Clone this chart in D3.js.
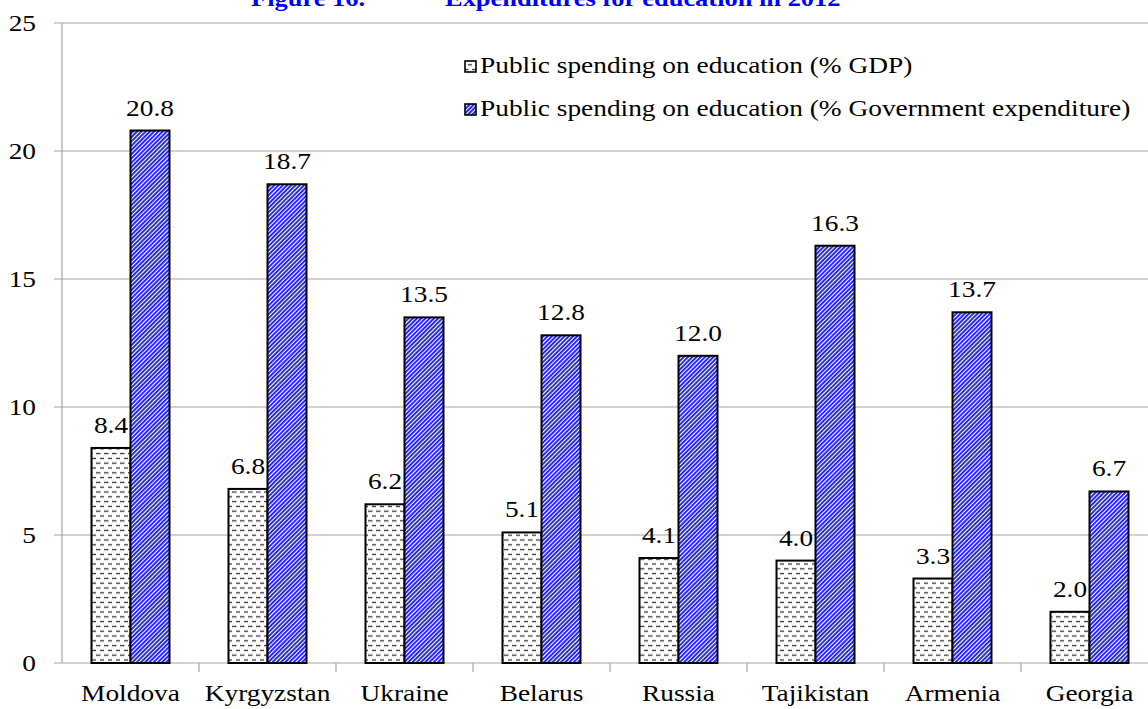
<!DOCTYPE html>
<html>
<head>
<meta charset="utf-8">
<script src="https://cdn.jsdelivr.net/npm/d3@7"></script>
<style>
  html, body { margin: 0; padding: 0; background: #fff; overflow: hidden; }
  text { font-family: "Liberation Serif", "Times New Roman", serif; }
</style>
</head>
<body>
<div class="chart"></div>
<script>
var countries = ["Moldova", "Kyrgyzstan", "Ukraine", "Belarus", "Russia", "Tajikistan", "Armenia", "Georgia"]
var gdpShare = [8.4, 6.8, 6.2, 5.1, 4.1, 4.0, 3.3, 2.0]
var govShare = [20.8, 18.7, 13.5, 12.8, 12.0, 16.3, 13.7, 6.7]
var seriesNames = ["Public spending on education (% GDP)", "Public spending on education (% Government expenditure)"]
var yTicks = [0, 5, 10, 15, 20, 25]

var W = 1148, H = 709
var stretch = 1.19   // text in the picture is wider than normal

var svg = d3.select(".chart")
  .append("svg")
  .attr("width", W)
  .attr("height", H)

var defs = svg.append("defs")

// small staggered dashes for % GDP
var pd = defs.append("pattern")
  .attr("id", "dash")
  .attr("patternUnits", "userSpaceOnUse")
  .attr("width", 8)
  .attr("height", 9.6)
pd.append("rect").attr("width", 8).attr("height", 9.6).attr("fill", "#fff")
pd.append("line").attr("x1", 0).attr("x2", 4.5).attr("y1", 2.4).attr("y2", 2.4)
  .style("stroke", "#333").style("stroke-width", 1.3)
pd.append("line").attr("x1", 4).attr("x2", 8.5).attr("y1", 7.2).attr("y2", 7.2)
  .style("stroke", "#333").style("stroke-width", 1.3)

// fine blue diagonal hatch for % government expenditure
var ph = defs.append("pattern")
  .attr("id", "hatch")
  .attr("patternUnits", "userSpaceOnUse")
  .attr("width", 3)
  .attr("height", 10)
  .attr("patternTransform", "rotate(45)")
ph.append("rect").attr("width", 3).attr("height", 10).attr("fill", "#fff")
ph.append("rect").attr("width", 1.9).attr("height", 10).attr("fill", "#1f1ff2")

var plotLeft = 62, plotTop = 23, plotBottom = 663, step = 137

var x = d3.scaleBand()
  .domain(countries)
  .range([plotLeft, plotLeft + step * countries.length])
  .padding(0)

var inner = d3.scaleBand()
  .domain([0, 1])
  .range([29.5, 107.5])
  .padding(0)

var y = d3.scaleLinear()
  .domain([0, 25])
  .range([plotBottom, plotTop])

function addText(tx, ty, str, size, anchor) {
  return svg.append("text")
    .attr("transform", "translate(" + tx + "," + ty + ") scale(" + stretch + ",1)")
    .attr("text-anchor", anchor)
    .style("font-size", size + "px")
    .attr("fill", "#000")
    .text(str)
}

// gridlines + y labels
yTicks.forEach(function (t) {
  svg.append("line")
    .attr("x1", 54)
    .attr("x2", W)
    .attr("y1", y(t))
    .attr("y2", y(t))
    .style("stroke", "#a6a6a6")
    .style("stroke-width", 1.2)
  addText(36, y(t) + 8, t, 23, "end")
})

// y axis
svg.append("line")
  .attr("x1", plotLeft).attr("x2", plotLeft)
  .attr("y1", plotTop).attr("y2", plotBottom)
  .style("stroke", "#a6a6a6")
  .style("stroke-width", 1.2)

// category ticks on x axis
countries.forEach(function (c, i) {
  svg.append("line")
    .attr("x1", x(c) + step).attr("x2", x(c) + step)
    .attr("y1", plotBottom).attr("y2", plotBottom + 9)
    .style("stroke", "#a6a6a6")
    .style("stroke-width", 1.2)
  addText(x(c) + step / 2, 701, c, 23, "middle")
})

// bars
var fills = ["url(#dash)", "url(#hatch)"]
var series = [gdpShare, govShare]

series.forEach(function (vals, s) {
  countries.forEach(function (c, i) {
    svg.append("rect")
      .attr("x", x(c) + inner(s))
      .attr("y", y(vals[i]))
      .attr("width", inner.bandwidth())
      .attr("height", y(0) - y(vals[i]))
      .attr("fill", fills[s])
      .style("stroke", "#000")
      .style("stroke-width", 2)
  })
})

// value labels
series.forEach(function (vals, s) {
  countries.forEach(function (c, i) {
    addText(x(c) + inner(s) + inner.bandwidth() / 2, y(vals[i]) - 15, vals[i].toFixed(1), 23, "middle")
  })
})

// legend
seriesNames.forEach(function (n, s) {
  var ly = 67 + s * 43
  svg.append("rect")
    .attr("x", 465)
    .attr("y", ly - 6)
    .attr("width", 11)
    .attr("height", 11)
    .attr("fill", fills[s])
    .style("stroke", "#000")
    .style("stroke-width", 1.6)
  addText(480, ly + 6, n, 23, "start")
})

// title, cut off at the top of the picture
svg.append("text")
  .attr("transform", "translate(251,6) scale(1.15,1)")
  .style("font-size", "23px")
  .attr("font-weight", "bold")
  .attr("fill", "#0000ff")
  .text("Figure 16.")

svg.append("text")
  .attr("transform", "translate(445,6) scale(1.15,1)")
  .style("font-size", "23px")
  .attr("font-weight", "bold")
  .attr("fill", "#0000ff")
  .text("Expenditures for education in 2012")
</script>
</body>
</html>
